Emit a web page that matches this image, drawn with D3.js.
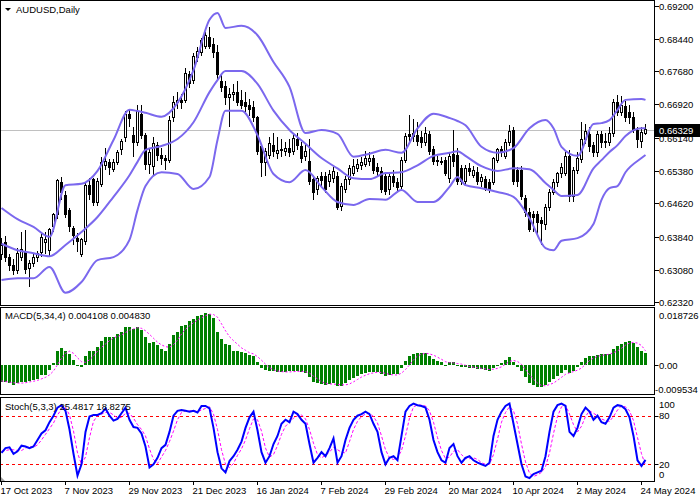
<!DOCTYPE html>
<html><head><meta charset="utf-8">
<script src="https://cdn.jsdelivr.net/npm/d3@7"></script>
<style>body{margin:0;background:#fff}svg{display:block}text{font-family:"Liberation Sans",Arial,sans-serif;font-size:9.5px;fill:#000}</style>
</head><body><svg id="c" width="700" height="500"></svg>
<script>
const opens=[.6342,.6370,.6335,.6318,.6306,.6335,.6350,.6310,.6322,.6337,.6348,.6370,.6353,.6407,.6435,.6509,.6481,.6446,.6404,.6381,.6342,.6372,.6504,.6516,.6463,.6505,.6550,.6556,.6540,.6556,.6586,.6614,.6667,.6620,.6604,.6667,.6620,.6551,.6548,.6597,.6574,.6565,.6562,.6660,.6695,.6700,.6700,.6760,.6748,.6800,.6812,.6825,.6848,.6830,.6811,.6745,.6732,.6707,.6714,.6720,.6700,.6697,.6688,.6684,.6660,.6593,.6556,.6574,.6597,.6577,.6584,.6583,.6590,.6583,.6610,.6594,.6570,.6560,.6518,.6493,.6525,.6523,.6512,.6520,.6523,.6455,.6493,.6516,.6532,.6543,.6550,.6553,.6560,.6565,.6546,.6535,.6523,.6493,.6523,.6509,.6500,.6562,.6621,.6616,.6620,.6614,.6602,.6621,.6586,.6562,.6560,.6562,.6520,.6575,.6574,.6543,.6513,.6543,.6527,.6534,.6513,.6518,.6511,.6511,.6562,.6586,.6570,.6602,.6632,.6539,.6539,.6474,.6440,.6435,.6435,.6423,.6412,.6453,.6486,.6509,.6530,.6530,.6570,.6477,.6537,.6563,.6609,.6621,.6595,.6579,.6621,.6605,.6602,.6625,.6695,.6672,.6686,.6672,.6662,.6632,.6605,.6625];
const highs=[.6381,.6385,.6345,.6332,.6358,.6395,.6400,.6330,.6345,.6352,.6395,.6395,.6405,.6440,.6518,.6522,.6490,.6452,.6410,.6392,.6382,.6510,.6520,.6520,.6520,.6570,.6590,.6565,.6565,.6585,.6612,.6676,.6680,.6640,.6690,.6690,.6625,.6590,.6615,.6605,.6590,.6575,.6665,.6710,.6720,.6715,.6775,.6770,.6810,.6825,.6845,.6860,.6871,.6845,.6830,.6760,.6745,.6730,.6740,.6745,.6725,.6720,.6705,.6700,.6665,.6600,.6590,.6615,.6625,.6615,.6612,.6605,.6612,.6625,.6625,.6605,.6600,.6610,.6522,.6525,.6535,.6535,.6540,.6545,.6535,.6510,.6525,.6550,.6565,.6565,.6570,.6584,.6580,.6575,.6555,.6545,.6530,.6535,.6540,.6520,.6570,.6625,.6667,.6658,.6650,.6630,.6640,.6630,.6595,.6572,.6570,.6570,.6580,.6632,.6590,.6550,.6550,.6555,.6548,.6545,.6530,.6525,.6518,.6570,.6590,.6595,.6610,.6644,.6640,.6545,.6548,.6480,.6450,.6445,.6445,.6430,.6460,.6495,.6518,.6535,.6555,.6580,.6585,.6545,.6580,.6650,.6645,.6640,.6605,.6630,.6630,.6625,.6640,.6705,.6714,.6712,.6700,.6690,.6675,.6640,.6640,.6645];
const lows=[.6330,.6325,.6305,.6295,.6298,.6328,.6298,.6268,.6315,.6325,.6338,.6345,.6340,.6395,.6425,.6470,.6428,.6395,.6365,.6349,.6337,.6365,.6470,.6455,.6455,.6500,.6540,.6527,.6535,.6550,.6575,.6605,.6640,.6570,.6595,.6610,.6540,.6530,.6528,.6560,.6550,.6540,.6555,.6650,.6680,.6680,.6695,.6730,.6740,.6790,.6805,.6820,.6820,.6800,.6745,.6720,.6690,.6640,.6700,.6688,.6680,.6675,.6665,.6650,.6575,.6523,.6525,.6565,.6570,.6565,.6570,.6572,.6570,.6575,.6585,.6555,.6560,.6505,.6470,.6480,.6500,.6485,.6500,.6510,.6446,.6445,.6485,.6505,.6525,.6535,.6540,.6545,.6548,.6530,.6525,.6485,.6480,.6480,.6500,.6490,.6495,.6555,.6600,.6605,.6595,.6590,.6595,.6575,.6550,.6548,.6550,.6525,.6510,.6545,.6505,.6505,.6505,.6525,.6520,.6505,.6500,.6490,.6485,.6505,.6555,.6570,.6565,.6595,.6505,.6500,.6470,.6430,.6395,.6395,.6388,.6365,.6400,.6445,.6480,.6500,.6520,.6525,.6465,.6465,.6530,.6555,.6600,.6580,.6570,.6570,.6590,.6590,.6595,.6615,.6665,.6665,.6650,.6645,.6625,.6590,.6590,.6620];
const closes=[.6365,.6335,.6318,.6306,.6345,.6354,.6307,.6322,.6337,.6345,.6382,.6378,.6400,.6435,.6514,.6488,.6435,.6407,.6388,.6372,.6377,.6504,.6483,.6463,.6512,.6556,.6560,.6544,.6556,.6579,.6605,.6667,.6658,.6604,.6674,.6620,.6551,.6580,.6600,.6574,.6565,.6562,.6655,.6695,.6700,.6695,.6764,.6740,.6802,.6815,.6840,.6852,.6827,.6811,.6760,.6730,.6707,.6714,.6720,.6695,.6690,.6686,.6679,.6660,.6581,.6556,.6581,.6600,.6581,.6584,.6586,.6590,.6580,.6612,.6595,.6567,.6582,.6513,.6487,.6519,.6515,.6493,.6528,.6535,.6453,.6500,.6516,.6543,.6548,.6553,.6557,.6565,.6566,.6539,.6535,.6493,.6490,.6523,.6509,.6498,.6562,.6616,.6616,.6625,.6605,.6602,.6625,.6583,.6560,.6558,.6560,.6532,.6570,.6560,.6513,.6513,.6543,.6535,.6539,.6513,.6521,.6497,.6493,.6567,.6586,.6579,.6602,.6628,.6513,.6513,.6477,.6440,.6400,.6428,.6418,.6416,.6453,.6488,.6509,.6530,.6546,.6570,.6477,.6539,.6567,.6609,.6628,.6593,.6579,.6621,.6602,.6602,.6625,.6695,.6672,.6690,.6662,.6660,.6632,.6609,.6627,.66329];

const bbIdx=[0,4,8,12,16,20,24,28,32,34,36,40,44,48,52,54,56,60,64,68,72,76,80,84,88,92,96,100,104,108,112,114,116,120,124,128,132,136,138,140,144,148,150,152,154,156,160,161];
const bbUpper=[.6451,.6425,.6407,.6384,.6504,.6507,.6537,.6609,.6679,.6676,.6672,.6663,.6695,.6771,.6888,.6904,.6869,.6874,.6852,.6790,.6732,.6625,.6632,.6623,.6570,.6577,.6586,.6579,.6636,.6670,.6660,.6653,.6643,.6593,.6579,.6590,.6636,.6655,.6636,.6593,.6572,.6646,.6648,.6655,.6679,.6702,.6704,.6702];
const bbMiddle=[.6368,.6353,.6346,.6339,.6365,.6395,.6430,.6477,.6527,.6558,.6586,.6595,.6611,.6650,.6720,.6748,.6769,.6769,.6739,.6677,.6632,.6600,.6567,.6543,.6520,.6518,.6532,.6534,.6550,.6572,.6579,.6583,.6572,.6548,.6537,.6543,.6541,.6509,.6493,.6479,.6481,.6543,.6562,.6581,.6597,.6618,.6636,.6636];
const bbLower=[.6284,.6288,.6288,.6314,.6254,.6279,.6330,.6337,.6377,.6446,.6502,.6534,.6530,.6495,.6523,.6609,.6677,.6677,.6620,.6530,.6511,.6539,.6500,.6465,.6458,.6472,.6470,.6493,.6465,.6465,.6500,.6523,.6504,.6497,.6488,.6477,.6427,.6358,.6353,.6375,.6381,.6414,.6470,.6497,.6502,.6534,.6567,.6574];

const macdHist=[-.0055,-.0055,-.0058,-.0066,-.0058,-.0055,-.0055,-.0053,-.0049,-.0044,-.0033,-.0033,-.0016,.0008,.0047,.0057,.0047,.0036,.0019,-.0003,-.0005,.0030,.0049,.0049,.0060,.0082,.0093,.0093,.0095,.0104,.0110,.0126,.0126,.0120,.0128,.0117,.0093,.0073,.0077,.0066,.0055,.0049,.0071,.0102,.0112,.0131,.0134,.0148,.0153,.0164,.0168,.0175,.0172,.0159,.0112,.0088,.0071,.0066,.0049,.0047,.0045,.0040,.0035,.0030,.0010,-.0008,-.0015,-.0018,-.0020,-.0022,-.0022,-.0022,-.0020,-.0018,-.0018,-.0022,-.0025,-.0040,-.0055,-.0060,-.0062,-.0065,-.0062,-.0060,-.0070,-.0068,-.0060,-.0050,-.0042,-.0035,-.0030,-.0025,-.0022,-.0022,-.0022,-.0030,-.0035,-.0032,-.0030,-.0030,-.0010,.0015,.0030,.0038,.0040,.0040,.0040,.0032,.0022,.0015,.0010,.0002,.0010,.0012,.0000,-.0005,-.0005,-.0008,-.0008,-.0012,-.0012,-.0015,-.0018,-.0008,.0000,.0008,.0018,.0028,.0010,-.0005,-.0020,-.0040,-.0058,-.0065,-.0072,-.0072,-.0065,-.0055,-.0045,-.0035,-.0025,-.0015,-.0025,-.0018,-.0005,.0012,.0025,.0030,.0030,.0035,.0038,.0036,.0038,.0055,.0065,.0072,.0078,.0080,.0075,.0062,.0048,.004108];
const macdSignal=[-.0052,-.0054,-.0056,-.0058,-.0059,-.0059,-.0058,-.0055,-.0053,-.0050,-.0045,-.0040,-.0032,-.0019,.0002,.0024,.0040,.0047,.0040,.0025,.0012,.0010,.0018,.0031,.0047,.0060,.0071,.0082,.0091,.0096,.0101,.0109,.0117,.0121,.0125,.0123,.0115,.0103,.0090,.0077,.0068,.0062,.0060,.0069,.0084,.0104,.0120,.0131,.0142,.0150,.0158,.0165,.0170,.0169,.0160,.0138,.0115,.0095,.0082,.0070,.0058,.0050,.0042,.0038,.0029,.0017,.0004,-.0008,-.0015,-.0019,-.0021,-.0022,-.0022,-.0021,-.0020,-.0020,-.0021,-.0026,-.0036,-.0045,-.0054,-.0061,-.0062,-.0062,-.0064,-.0065,-.0065,-.0062,-.0055,-.0047,-.0039,-.0033,-.0028,-.0025,-.0023,-.0024,-.0027,-.0030,-.0032,-.0032,-.0026,-.0014,.0001,.0018,.0031,.0037,.0040,.0038,.0034,.0027,.0020,.0012,.0009,.0008,.0006,.0004,.0000,-.0004,-.0006,-.0008,-.0010,-.0012,-.0014,-.0013,-.0010,-.0005,.0004,.0013,.0016,.0013,.0003,-.0014,-.0031,-.0046,-.0059,-.0067,-.0068,-.0064,-.0059,-.0050,-.0040,-.0030,-.0025,-.0021,-.0016,-.0009,.0003,.0016,.0024,.0030,.0033,.0035,.0037,.0042,.0048,.0057,.0067,.0074,.0076,.0074,.0066,.004830];

const stochMain=[34,40,41,33,36,43,42,40,42,50,58,62,72,80,90,93,86,63,33,6,20,60,79,81,81,83,89,80,74,76,83,90,75,66,65,58,42,16,20,28,40,44,60,80,86,87,86,85,86,84,92,92,89,65,35,15,10,24,30,38,48,65,78,85,62,35,22,30,45,55,70,75,72,85,82,75,70,45,22,28,35,30,40,52,22,30,50,65,75,80,82,85,82,70,60,35,20,28,30,25,55,85,92,95,93,92,90,75,50,35,25,22,40,45,30,22,28,30,25,22,20,18,22,55,75,85,92,95,70,45,20,5,3,8,10,12,30,60,85,93,95,92,60,55,65,82,90,85,75,80,72,70,78,90,93,92,88,78,55,25,18,25.4817];
const stochSignal=[36,37,38,38,37,37,40,42,41,44,50,57,64,71,81,88,90,81,61,34,20,29,53,73,80,82,84,84,81,77,78,83,83,77,69,63,55,39,26,21,29,37,48,61,75,84,86,86,86,85,87,89,91,82,63,38,20,16,21,31,39,50,64,76,75,61,40,29,32,43,57,67,72,77,80,81,76,63,46,32,28,31,35,41,38,35,34,48,63,73,79,82,83,79,71,55,38,28,26,28,37,55,77,91,93,93,92,86,72,53,37,27,29,36,38,32,27,27,28,26,22,20,20,32,51,72,84,91,86,70,45,23,9,5,7,10,17,34,58,79,91,93,82,69,60,67,79,86,83,80,76,74,73,79,87,92,91,86,74,53,33,18.8275];

const priceTicks=[0.69200,0.68440,0.67680,0.66920,0.66140,0.65380,0.64620,0.63840,0.63080,0.62320];
const dateIdx=[0,16,32,48,64,80,96,112,128,144,160];
const dateLabels=["17 Oct 2023","7 Nov 2023","29 Nov 2023","21 Dec 2023","16 Jan 2024","7 Feb 2024","29 Feb 2024","20 Mar 2024","10 Apr 2024","2 May 2024","24 May 2024"];
const stochLevels=[20,80];
const stochTicks=[100,80,20,0];

const svg=d3.select("#c");
const AX=654.5;
const x=d3.scaleLinear().domain([0,161]).range([1.5,645.5]);
const y=d3.scaleLinear().domain([0.62257,0.69316]).range([305,1]);
const ym=d3.scaleLinear().domain([-0.009534,0.018726]).range([394,309]);
const ys=d3.scaleLinear().domain([0,100]).range([480.5,399.5]);

const defs=svg.append("defs");
[["cm",0,1,654,304],["cmacd",0,308,654,86],["cst",0,398,654,83]].forEach(([id,a,b,w,h])=>defs.append("clipPath").attr("id",id).append("rect").attr("x",a).attr("y",b).attr("width",w).attr("height",h));

// main panel
const gm=svg.append("g").attr("clip-path","url(#cm)");
gm.append("line").attr("x1",0).attr("x2",AX).attr("y1",Math.round(y(closes[161]))+0.5).attr("y2",Math.round(y(closes[161]))+0.5).attr("stroke","#c0c0c0");
const idx=d3.range(closes.length);
const cg=gm.append("g").attr("shape-rendering","crispEdges");
cg.selectAll("line.w").data(idx).join("line").attr("x1",i=>Math.floor(x(i))+0.5).attr("x2",i=>Math.floor(x(i))+0.5)
  .attr("y1",i=>y(highs[i])).attr("y2",i=>y(lows[i])).attr("stroke","#000");
cg.selectAll("rect.b").data(idx).join("rect")
  .attr("x",i=>Math.floor(x(i))-0.5).attr("width",2)
  .attr("y",i=>y(Math.max(opens[i],closes[i])))
  .attr("height",i=>Math.max(1,Math.abs(y(opens[i])-y(closes[i]))))
  .attr("fill",i=>closes[i]>=opens[i]?"#fff":"#000").attr("stroke","#000");
const bbLine=arr=>d3.line().x((d,k)=>x(bbIdx[k])).y(d=>y(d)).curve(d3.curveMonotoneX)(arr);
[bbUpper,bbMiddle,bbLower].forEach(a=>gm.append("path").attr("d",bbLine(a)).attr("fill","none").attr("stroke","#7b68ee").attr("stroke-width",2));

// MACD panel
const gmac=svg.append("g").attr("clip-path","url(#cmacd)");
gmac.append("g").attr("shape-rendering","crispEdges").selectAll("rect").data(idx).join("rect")
  .attr("x",i=>Math.floor(x(i))-1).attr("width",3)
  .attr("y",i=>Math.min(ym(0),ym(macdHist[i]))).attr("height",i=>Math.max(1,Math.abs(ym(macdHist[i])-ym(0))))
  .attr("fill","#008000");
gmac.append("path").attr("d",d3.line().x((d,i)=>x(i)).y(d=>ym(d))(macdSignal)).attr("fill","none").attr("stroke","#ff00ff").attr("stroke-width",1).attr("stroke-dasharray","2,2");

// Stoch panel
const gst=svg.append("g").attr("clip-path","url(#cst)");
stochLevels.forEach(v=>gst.append("line").attr("x1",0).attr("x2",AX).attr("y1",Math.round(ys(v))+0.5).attr("y2",Math.round(ys(v))+0.5).attr("stroke","#ff0000").attr("stroke-dasharray","3,3"));
gst.append("path").attr("d",d3.line().x((d,i)=>x(i)).y(d=>ys(d))(stochSignal)).attr("fill","none").attr("stroke","#ff00ff").attr("stroke-width",1).attr("stroke-dasharray","3,2");
gst.append("path").attr("d",d3.line().x((d,i)=>x(i)).y(d=>ys(d))(stochMain)).attr("fill","none").attr("stroke","#0000ff").attr("stroke-width",2);
gst.append("path").attr("d","M0,476L0,481L5,481Z").attr("fill","#a0a0a0");

// frames
const fr=svg.append("g").attr("stroke","#000").attr("shape-rendering","crispEdges").attr("fill","none");
fr.append("rect").attr("x",0.5).attr("y",0.5).attr("width",AX-0.5).attr("height",305);
fr.append("rect").attr("x",0.5).attr("y",307.5).attr("width",AX-0.5).attr("height",87);
fr.append("rect").attr("x",0.5).attr("y",397.5).attr("width",AX-0.5).attr("height",83.5);

// price axis
const pa=svg.append("g");
priceTicks.forEach(v=>{
  const yy=Math.round(y(v))+0.5;
  pa.append("line").attr("x1",AX).attr("x2",AX+4).attr("y1",yy).attr("y2",yy).attr("stroke","#000").attr("shape-rendering","crispEdges");
  pa.append("text").attr("x",659).attr("y",yy+3.5).text(v.toFixed(5));
});
const cy=Math.round(y(closes[161]));
pa.append("rect").attr("x",655).attr("y",cy-6).attr("width",45).attr("height",13).attr("fill","#000");
pa.append("text").attr("x",659).attr("y",cy+3.5).style("fill","#fff").text(d3.format(".5f")(closes[161]));

const macdTicks=[[0.018726,"0.018726",315],[0,"0.00",365.5],[-0.009534,"-0.009534",389]];
macdTicks.forEach(([v,l,ty])=>{
  pa.append("text").attr("x",v<0?655:659).attr("y",ty+3.5).text(l);
});
pa.append("line").attr("x1",AX).attr("x2",AX+4).attr("y1",Math.round(ym(0))+0.5).attr("y2",Math.round(ym(0))+0.5).attr("stroke","#000");
stochTicks.forEach(v=>{
  let ty=ys(v); if(v===100) ty+=4.5; if(v===0) ty-=6.5;
  pa.append("text").attr("x",659).attr("y",ty+3.5).text(v);
  if(v===80||v===20) pa.append("line").attr("x1",AX).attr("x2",AX+4).attr("y1",Math.round(ys(v))+0.5).attr("y2",Math.round(ys(v))+0.5).attr("stroke","#000");
});

dateIdx.forEach((d,k)=>{
  const xx=Math.floor(x(d))+0.5;
  pa.append("line").attr("x1",xx).attr("x2",xx).attr("y1",481).attr("y2",485).attr("stroke","#000").attr("shape-rendering","crispEdges");
  pa.append("text").attr("x",xx-1).attr("y",494).text(dateLabels[k]);
});

svg.append("path").attr("d","M5,8L11,8L8,11Z").attr("fill","#000");
svg.append("text").attr("x",16).attr("y",13).text("AUDUSD,Daily");
svg.append("text").attr("x",5).attr("y",319).text("MACD(5,34,4) 0.004108 0.004830");
svg.append("text").attr("x",5).attr("y",410).text("Stoch(5,3,3) 25.4817 18.8275");
</script></body></html>
